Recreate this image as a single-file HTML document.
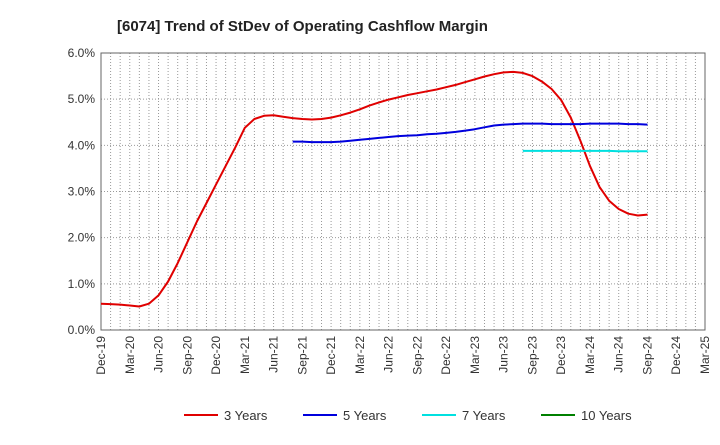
<!DOCTYPE html>
<html><head><meta charset="utf-8"><style>
body{margin:0;background:#fff;font-family:"Liberation Sans",sans-serif;}
svg text{font-family:"Liberation Sans",sans-serif;}
</style></head><body>
<svg id="chart" width="720" height="440" xmlns="http://www.w3.org/2000/svg">
<text x="117" y="31" font-size="15" font-weight="bold" fill="#222">[6074]  Trend of StDev of Operating Cashflow Margin</text>
<g id="grid"></g>
<g id="axes"></g>
<g id="series"></g>
<g id="legend"></g>
</svg>
<script>
const xLabels=["Dec-19","Mar-20","Jun-20","Sep-20","Dec-20","Mar-21","Jun-21","Sep-21","Dec-21","Mar-22","Jun-22","Sep-22","Dec-22","Mar-23","Jun-23","Sep-23","Dec-23","Mar-24","Jun-24","Sep-24","Dec-24","Mar-25"];
const yTicks=[0,1,2,3,4,5,6];
const s3Start=0;
const s3=[0.57,0.56,0.55,0.53,0.51,0.57,0.75,1.05,1.45,1.9,2.35,2.75,3.15,3.55,3.95,4.38,4.57,4.64,4.65,4.62,4.59,4.57,4.56,4.57,4.6,4.65,4.71,4.78,4.86,4.93,4.99,5.04,5.09,5.13,5.17,5.21,5.26,5.31,5.37,5.43,5.49,5.54,5.58,5.59,5.57,5.5,5.38,5.22,4.98,4.6,4.1,3.55,3.1,2.8,2.62,2.52,2.48,2.5];
const s5Start=20;
const s5=[4.08,4.08,4.07,4.07,4.07,4.08,4.1,4.12,4.14,4.16,4.18,4.2,4.21,4.22,4.24,4.25,4.27,4.29,4.32,4.35,4.39,4.43,4.45,4.46,4.47,4.47,4.47,4.46,4.46,4.46,4.46,4.47,4.47,4.47,4.47,4.46,4.46,4.45];
const s7Start=44;
const s7=[3.88,3.88,3.88,3.88,3.88,3.88,3.88,3.88,3.88,3.88,3.87,3.87,3.87,3.87];
const s10Start=0;
const s10=[];
const L=101,R=705,T=53,B=330,yMax=6;
const NS="http://www.w3.org/2000/svg";
const months=(xLabels.length-1)*3;
const xs=m=>L+(R-L)*m/months;
const ys=v=>B-(B-T)*v/yMax;
function mk(t,a,p){const e=document.createElementNS(NS,t);for(const k in a)e.setAttribute(k,a[k]);p.appendChild(e);return e;}
const grid=document.getElementById('grid'),axes=document.getElementById('axes'),series=document.getElementById('series'),legend=document.getElementById('legend');
for(let m=1;m<=months;m++){const g=mk('line',{x1:xs(m),x2:xs(m),y1:T,y2:B,stroke:'#999','stroke-dasharray':'1,2','stroke-width':1},grid);

}
yTicks.forEach(v=>{if(v>0){const g=mk('line',{x1:L,x2:R,y1:ys(v),y2:ys(v),stroke:'#999','stroke-dasharray':'1,2'},grid);

}
const t=mk('text',{x:L-6,y:ys(v)+4,'text-anchor':'end','font-size':12,fill:'#333'},axes);t.textContent=v.toFixed(1)+'%';

});
const fr=mk('rect',{x:L,y:T,width:R-L,height:B-T,fill:'none',stroke:'#666'},axes);


xLabels.forEach((lab,i)=>{const x=xs(i*3);const t=mk('text',{x:0,y:0,transform:`translate(${x+4},${B+6}) rotate(-90)`,'text-anchor':'end','font-size':12,fill:'#333'},axes);t.textContent=lab;

});
function line(data,start,color,name){if(!data.length)return;const p=data.map((v,i)=>`${i?'L':'M'}${xs(start+i).toFixed(1)},${ys(v).toFixed(1)}`).join('');
const e=mk('path',{d:p,fill:'none',stroke:color,'stroke-width':2,'stroke-linejoin':'round'},series);

}
line(s3,s3Start,'#e00000','line-3-years');
line(s5,s5Start,'#0000dd','line-5-years');
line(s7,s7Start,'#00e0e0','line-7-years');
line(s10,s10Start,'#008000','line-10-years');
const leg=[["3 Years","#e00000",184],["5 Years","#0000dd",303],["7 Years","#00e0e0",422],["10 Years","#008000",541]];
leg.forEach(([n,c,x])=>{const g=mk('g',{},legend);


mk('line',{x1:x,x2:x+34,y1:415,y2:415,stroke:c,'stroke-width':2},g);
const t=mk('text',{x:x+40,y:420,'font-size':13,fill:'#333'},g);t.textContent=n;});
</script>
</body></html>
